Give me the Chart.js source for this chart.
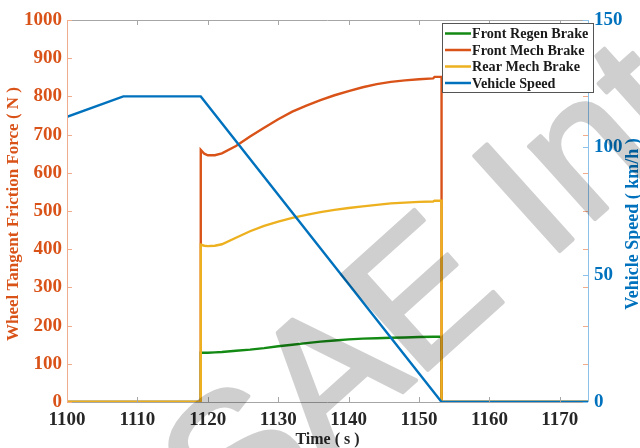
<!DOCTYPE html>
<html><head><meta charset="utf-8">
<script src="https://cdn.jsdelivr.net/npm/chart.js@4.4.0/dist/chart.umd.min.js"></script>
<style>html,body{margin:0;padding:0;background:#fff;overflow:hidden}#wrap{width:640px;height:448px;position:relative}</style>
</head><body><div id="wrap"><canvas id="c" width="640" height="448"></canvas></div>
<script>
// ---- data ----
const brakeTime = [1100, 1119, 1119, 1119.5, 1120, 1121, 1122, 1124, 1126, 1128, 1130, 1132, 1134, 1136, 1138, 1140, 1142, 1144, 1146, 1148, 1150, 1152, 1152.2, 1153.2, 1153.2, 1174];
const frontRegen = [0, 0, 129, 129, 129, 130, 131, 134, 137, 141, 146, 150, 154, 158, 161, 164, 166, 167, 168, 169, 170, 171, 171, 171, 0, 0];
const frontMech  = [0, 0, 660, 650, 646, 646, 651, 670, 695, 718, 740, 760, 776, 790, 803, 814, 824, 832, 838, 842, 845, 847, 851, 851, 0, 0];
const rearMech   = [0, 0, 412, 409, 408, 409, 413, 430, 447, 461, 472, 482, 490, 497, 503, 508, 512, 516, 520, 522, 524, 525, 527, 527, 0, 0];
const speedTime  = [1100, 1108, 1119, 1153.2, 1174];
const vehicleSpeed = [112, 120, 120, 0, 0];
const xTicks = [1100, 1110, 1120, 1130, 1140, 1150, 1160, 1170];
const forceTicks = [0, 100, 200, 300, 400, 500, 600, 700, 800, 900, 1000];
const speedTicks = [0, 50, 100, 150];
const seriesNames = ['Front Regen Brake', 'Front Mech Brake', 'Rear Mech Brake', 'Vehicle Speed'];
const seriesColors = ['#138a13', '#D95319', '#EDB120', '#0072BD'];
const titles = { x: 'Time ( s )', y: 'Wheel Tangent Friction Force ( N )', y1: 'Vehicle Speed ( km/h )' };
const watermark = 'SAE Int';

const pts = (xs, ys) => xs.map((x, i) => ({ x, y: ys[i] }));
const SERIF = '"Liberation Serif", "Times New Roman", serif';

const framePlugin = {
  id: 'frame',
  afterDatasetsDraw(chart) {
    const { ctx, chartArea: a, scales } = chart;
    ctx.save();
    ctx.lineWidth = 1;
    ctx.strokeStyle = '#a6a6a6';
    ctx.beginPath();
    ctx.moveTo(a.left, a.top + 0.5); ctx.lineTo(a.right, a.top + 0.5);
    ctx.moveTo(a.left, a.bottom + 0.5); ctx.lineTo(a.right, a.bottom + 0.5);
    xTicks.forEach(v => {
      const px = Math.round(scales.x.getPixelForValue(v)) + 0.5;
      ctx.moveTo(px, a.bottom); ctx.lineTo(px, a.bottom - 5);
      ctx.moveTo(px, a.top); ctx.lineTo(px, a.top + 5);
    });
    ctx.stroke();
    ctx.strokeStyle = '#f0ac8c';
    ctx.beginPath();
    ctx.moveTo(a.left + 0.5, a.top); ctx.lineTo(a.left + 0.5, a.bottom);
    forceTicks.forEach(v => {
      const py = Math.round(scales.y.getPixelForValue(v)) + 0.5;
      ctx.moveTo(a.left, py); ctx.lineTo(a.left + 5, py);
      ctx.moveTo(a.right, py); ctx.lineTo(a.right - 5, py);
    });
    ctx.stroke();
    ctx.strokeStyle = '#8cc2ea';
    ctx.beginPath();
    ctx.moveTo(a.right + 0.5, a.top); ctx.lineTo(a.right + 0.5, a.bottom);
    speedTicks.forEach(v => {
      const py = Math.round(scales.y1.getPixelForValue(v)) + 0.5;
      ctx.moveTo(a.right, py); ctx.lineTo(a.right - 5, py);
    });
    ctx.stroke();
    // axis titles
    ctx.textAlign = 'center'; ctx.textBaseline = 'middle';
    ctx.font = 'bold 16px ' + SERIF;
    ctx.fillStyle = '#262626';
    ctx.fillText(titles.x, (a.left + a.right) / 2, 440);
    ctx.save();
    ctx.translate(14, 214);
    ctx.rotate(-Math.PI / 2);
    ctx.font = 'bold 17px ' + SERIF;
    ctx.fillStyle = '#D95319';
    ctx.fillText(titles.y, 0, 0);
    ctx.restore();
    ctx.save();
    ctx.translate(633, 224);
    ctx.rotate(-Math.PI / 2);
    ctx.font = 'bold 18px ' + SERIF;
    ctx.fillStyle = '#0072BD';
    ctx.fillText(titles.y1, 0, 0);
    ctx.restore();
    // legend
    const lx = 442, ly = 23, lw = 151, lh = 69;
    ctx.fillStyle = '#ffffff';
    ctx.fillRect(lx, ly, lw, lh);
    ctx.strokeStyle = '#555555';
    ctx.lineWidth = 1;
    ctx.strokeRect(lx + 0.5, ly + 0.5, lw, lh);
    ctx.font = 'bold 14.2px ' + SERIF;
    ctx.textAlign = 'left';
    seriesNames.forEach((n, i) => {
      const yy = 33.5 + i * 16.5;
      ctx.strokeStyle = seriesColors[i];
      ctx.lineWidth = 2.5;
      ctx.beginPath(); ctx.moveTo(445, yy); ctx.lineTo(471, yy); ctx.stroke();
      ctx.fillStyle = '#1a1a1a';
      ctx.fillText(n, 472, yy + 1);
    });
    ctx.restore();
  },
  afterDraw(chart) {
    const { ctx } = chart;
    const off = document.createElement('canvas');
    off.width = 640; off.height = 448;
    const o = off.getContext('2d');
    o.translate(232, 546);
    o.rotate(-42 * Math.PI / 180);
    o.font = '186px "Liberation Sans", Arial, sans-serif';
    o.fillStyle = '#cfcfcf'; o.strokeStyle = '#cfcfcf';
    o.lineWidth = 4; o.lineJoin = 'round';
    o.fillText(watermark, 0, 0);
    o.strokeText(watermark, 0, 0);
    ctx.save();
    ctx.globalCompositeOperation = 'multiply';
    ctx.drawImage(off, 0, 0);
    ctx.restore();
  }
};

const plain = v => String(v);

new Chart(document.getElementById('c'), {
  type: 'line',
  data: {
    datasets: [
      { label: seriesNames[3], data: pts(speedTime, vehicleSpeed), yAxisID: 'y1', borderColor: seriesColors[3], order: 0 },
      { label: seriesNames[2], data: pts(brakeTime, rearMech), yAxisID: 'y', borderColor: seriesColors[2], order: 1 },
      { label: seriesNames[1], data: pts(brakeTime, frontMech), yAxisID: 'y', borderColor: seriesColors[1], order: 2 },
      { label: seriesNames[0], data: pts(brakeTime, frontRegen), yAxisID: 'y', borderColor: seriesColors[0], order: 3 }
    ]
  },
  options: {
    responsive: false, animation: false, devicePixelRatio: 1,
    elements: { point: { radius: 0 }, line: { borderWidth: 2.4, tension: 0, fill: false } },
    layout: { padding: { top: 20, left: 0, right: 0, bottom: 0 } },
    plugins: { legend: { display: false }, tooltip: { enabled: false } },
    scales: {
      x: {
        type: 'linear', position: 'bottom', min: 1100, max: 1174,
        afterFit: s => { s.height = 46; },
        afterBuildTicks: s => { s.ticks = xTicks.map(v => ({ value: v })); },
        ticks: { callback: plain, color: '#262626', font: { family: SERIF, weight: 'bold', size: 19 }, padding: 7, maxRotation: 0, autoSkip: false },
        grid: { display: false, drawTicks: false }, border: { display: false }
      },
      y: {
        type: 'linear', position: 'left', min: 0, max: 1000,
        afterFit: s => { s.width = 67; },
        afterBuildTicks: s => { s.ticks = forceTicks.map(v => ({ value: v })); },
        ticks: { callback: plain, color: '#D95319', font: { family: SERIF, weight: 'bold', size: 19 }, padding: 5, autoSkip: false },
        grid: { display: false, drawTicks: false }, border: { display: false }
      },
      y1: {
        type: 'linear', position: 'right', min: 0, max: 150,
        afterFit: s => { s.width = 52; },
        afterBuildTicks: s => { s.ticks = speedTicks.map(v => ({ value: v })); },
        ticks: { callback: plain, color: '#0072BD', font: { family: SERIF, weight: 'bold', size: 19 }, padding: 6, autoSkip: false },
        grid: { display: false, drawTicks: false }, border: { display: false }
      }
    }
  },
  plugins: [framePlugin]
});
</script></body></html>
